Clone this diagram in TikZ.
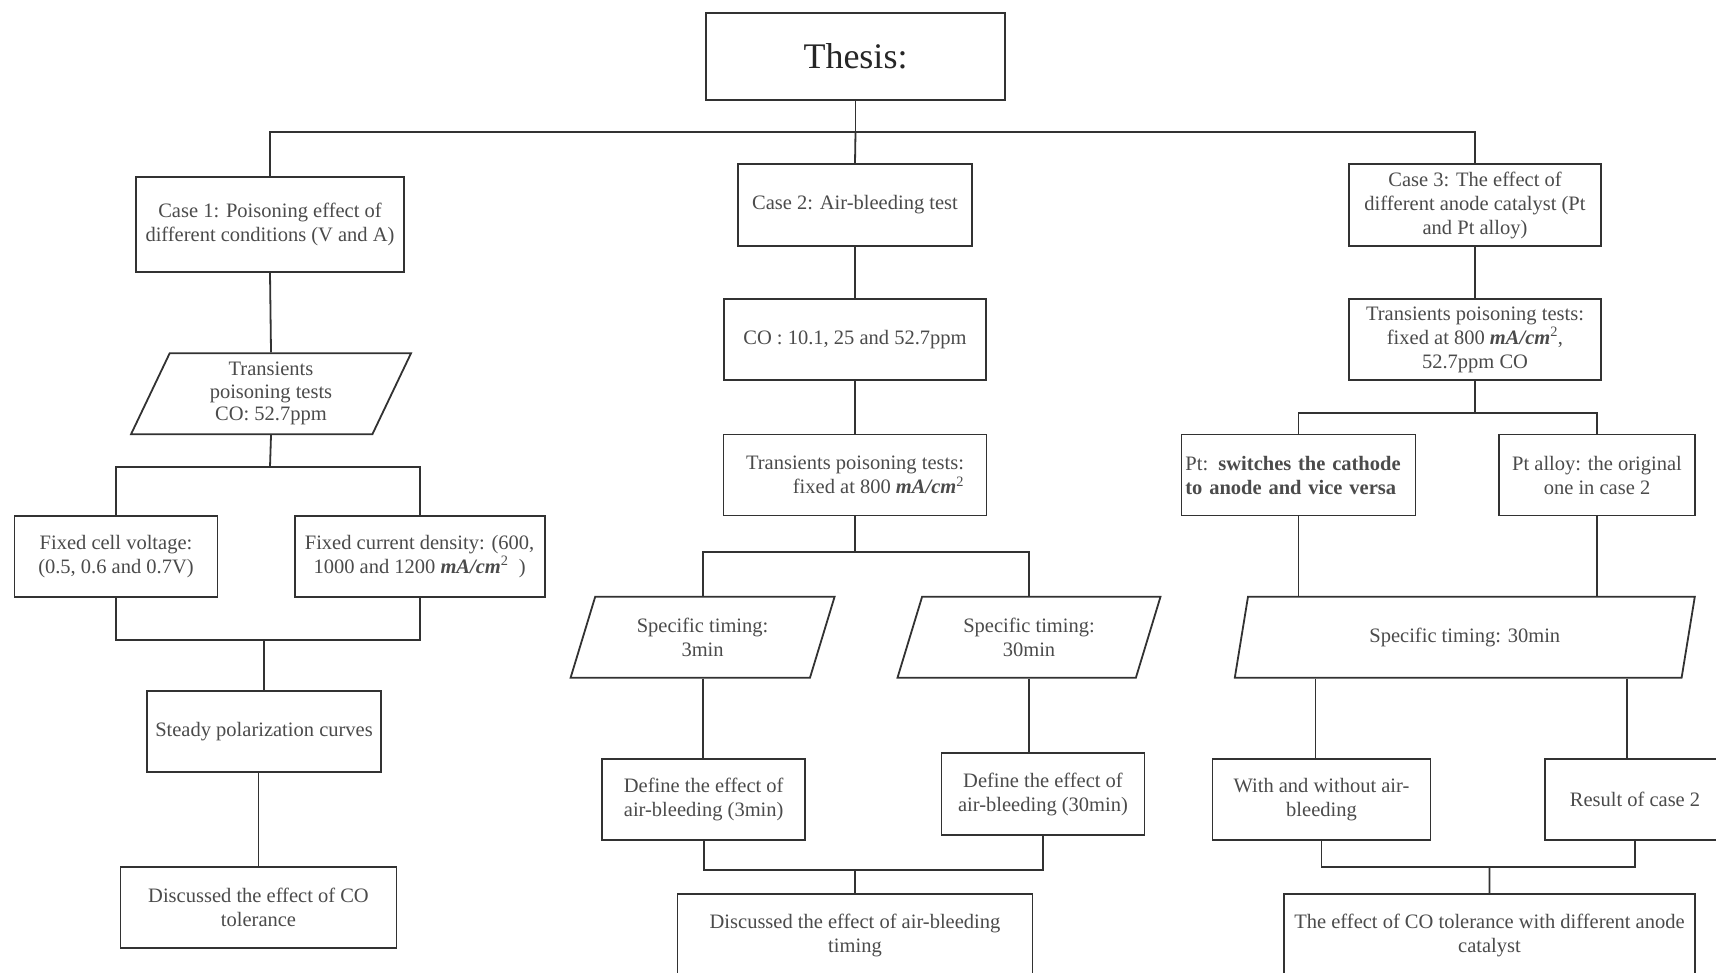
\documentclass[tikz,border=0pt]{standalone}
\usepackage{fontspec}
\setmainfont{Liberation Serif}
\usetikzlibrary{shapes.geometric,calc,positioning}
\definecolor{linegray}{RGB}{50,50,50}
\definecolor{textgray}{RGB}{75,75,75}
\tikzstyle{flow}=[
  x=1pt,y=-1pt
]
\tikzstyle{chartbox}=[
  draw=linegray,rectangle,line width=1.8pt,inner sep=2pt,align=center,text=textgray,font=\fontsize{20.5}{24}\selectfont
]
\tikzstyle{iobox}=[
  chartbox,trapezium,trapezium left angle=60,trapezium right angle=120,trapezium stretches body,minimum height=81pt
]
\tikzstyle{link}=[
  draw=linegray,line width=1.8pt
]
\newcommand{\mAcm}{\textbf{\textit{mA/cm}}\textsuperscript{2}}

\begin{document}
\begin{tikzpicture}[flow]
  \useasboundingbox (0,0) rectangle (1716,972);
  \fill [white] (0,0) rectangle (1716,972);
  \node (thesis) at (855.5,56.5) [chartbox,minimum width=299pt,minimum height=87pt,font=\fontsize{36}{40}\selectfont,text=black!85] {Thesis:};
  % case 1
  \node (case1) at (270,224.5) [chartbox,minimum width=268pt,minimum height=95pt] {Case 1: Poisoning effect of\\different conditions (V and A)};
  \node (ptest1) at (271,393.8) [iobox,minimum width=280pt,font=\fontsize{20.5}{22.5}\selectfont] {Transients\\poisoning tests\\CO: 52.7ppm};
  \node (cellv) at (116,556.4) [chartbox,minimum width=203pt,minimum height=81pt] {Fixed cell voltage:\\(0.5, 0.6 and 0.7V)};
  \node (curd) at (419.6,556.4) [chartbox,minimum width=250pt,minimum height=81pt] {Fixed current density: (600,\\1000 and 1200 \mAcm\ \ )};
  \node (steady) at (264,731.5) [chartbox,minimum width=234pt,minimum height=81pt] {Steady polarization curves};
  \node (disco) at (258.5,907.8) [chartbox,minimum width=276pt,minimum height=81pt] {Discussed the effect of CO\\tolerance};
  % case 2
  \node (case2) at (855,205) [chartbox,minimum width=234pt,minimum height=82pt] {Case 2: Air-bleeding test};
  \node (co) at (855,339.5) [chartbox,minimum width=262pt,minimum height=81pt] {CO : 10.1, 25 and 52.7ppm};
  \node (ptest2) at (855,475) [chartbox,minimum width=263pt,minimum height=81pt,align=right] {Transients poisoning tests:\\fixed at 800 \mAcm};
  \node (t3) at (702.6,637.2) [iobox,minimum width=264pt] {Specific timing:\\3min};
  \node (t30) at (1029,637.2) [iobox,minimum width=263pt] {Specific timing:\\30min};
  \node (def3) at (703.7,799.7) [chartbox,minimum width=203pt,minimum height=81pt] {Define the effect of\\air-bleeding (3min)};
  \node (def30) at (1043,794) [chartbox,minimum width=203pt,minimum height=82pt] {Define the effect of\\air-bleeding (30min)};
  \node (disab) at (855,935) [chartbox,minimum width=355pt,minimum height=82pt] {Discussed the effect of air-bleeding\\timing};
  % case 3
  \node (case3) at (1475,205) [chartbox,minimum width=252pt,minimum height=82pt] {Case 3: The effect of\\different anode catalyst (Pt\\and Pt alloy)};
  \node (ptest3) at (1475,339.5) [chartbox,minimum width=252pt,minimum height=81pt] {Transients poisoning tests:\\fixed at 800 \mAcm,\\52.7ppm CO};
  \node (pt) at (1298.4,475) [chartbox,minimum width=234pt,minimum height=81pt,align=left,text width=226pt] {Pt: \textbf{switches the cathode}\\\textbf{to anode and vice versa}};
  \node (ptalloy) at (1597,475) [chartbox,minimum width=196pt,minimum height=81pt] {Pt alloy: the original\\one in case 2};
  \node (t30b) at (1464.8,637.2) [iobox,minimum width=460pt] {Specific timing: 30min};
  \node (with) at (1321.5,799.7) [chartbox,minimum width=218pt,minimum height=81pt] {With and without air-\\bleeding};
  \node (result) at (1635,799.7) [chartbox,minimum width=180pt,minimum height=81pt] {Result of case 2};
  \node (effect) at (1489.5,935) [chartbox,minimum width=411pt,minimum height=82pt] {The effect of CO tolerance with different anode\\catalyst};
  % top branching
  \coordinate (bus0) at (855.5,132);
  \draw [link] (thesis.south) -- (bus0);
  \draw [link] (bus0) -| (case1.north);
  \draw [link] (bus0) -| (case3.north);
  \draw [link] (bus0) -- (case2.north);
  % case 1 links
  \draw [link] (case1.south) -- (ptest1.north);
  \coordinate (bus1) at (270,467);
  \draw [link] (ptest1.south) -- (bus1);
  \draw [link] (bus1) -| (cellv.north);
  \draw [link] (bus1) -| (curd.north);
  \coordinate (bus2) at (264,640);
  \draw [link] (cellv.south) |- (bus2);
  \draw [link] (curd.south) |- (bus2);
  \draw [link] (bus2) -- (steady.north);
  \draw [link] (disco.north |- steady.south) -- (disco.north);
  % case 2 links
  \draw [link] (case2.south) -- (co.north);
  \draw [link] (co.south) -- (ptest2.north);
  \coordinate (bus3) at (855,552);
  \draw [link] (ptest2.south) -- (bus3);
  \draw [link] (bus3) -| (t3.north);
  \draw [link] (bus3) -| (t30.north);
  \draw [link] (t3.south) -- (t3.south |- def3.north);
  \draw [link] (t30.south) -- (t30.south |- def30.north);
  \coordinate (bus4) at (855,870);
  \draw [link] (def3.south) |- (bus4);
  \draw [link] (def30.south) |- (bus4);
  \draw [link] (bus4) -- (disab.north);
  % case 3 links
  \draw [link] (case3.south) -- (ptest3.north);
  \coordinate (bus5) at (1475,412.7);
  \draw [link] (ptest3.south) -- (bus5);
  \draw [link] (bus5) -| (pt.north);
  \draw [link] (bus5) -| (ptalloy.north);
  \draw [link] (pt.south) -- (pt.south |- t30b.north);
  \draw [link] (ptalloy.south) -- (ptalloy.south |- t30b.north);
  \draw [link] ([xshift=-6pt]with.north |- t30b.south) -- ([xshift=-6pt]with.north);
  \draw [link] ([xshift=-8pt]result.north |- t30b.south) -- ([xshift=-8pt]result.north);
  \coordinate (bus6) at (1489.4,866.7);
  \draw [link] (with.south) |- (bus6);
  \draw [link] (result.south) |- (bus6);
  \draw [link] (bus6) -- (effect.north);
\end{tikzpicture}
\end{document}
